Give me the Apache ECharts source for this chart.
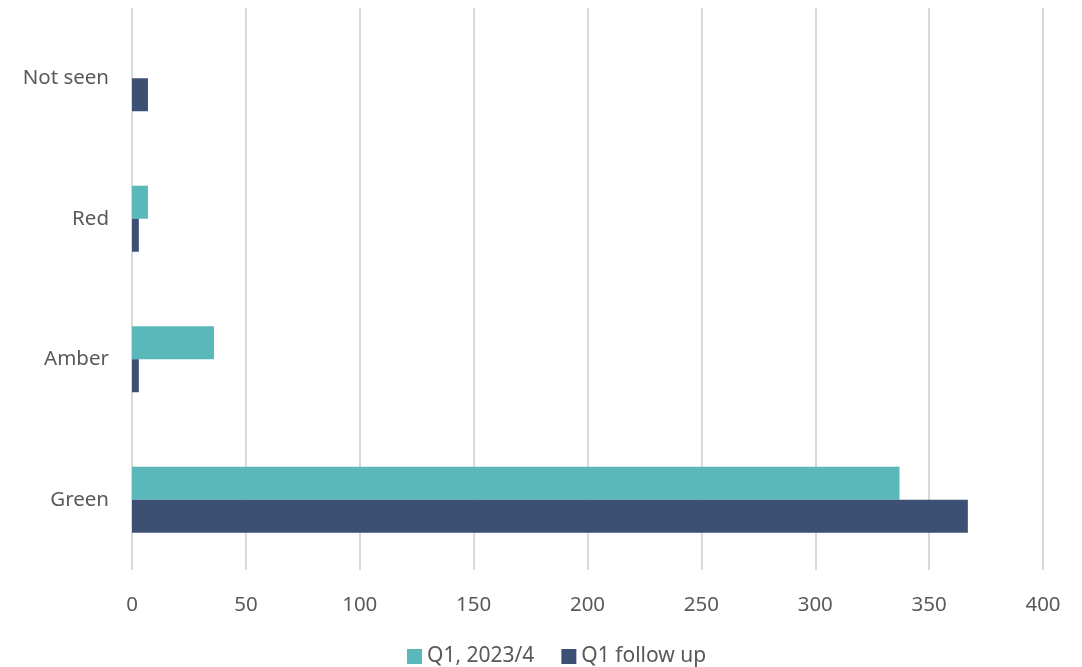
<!DOCTYPE html>
<html><head><meta charset="utf-8">
<script src="https://cdn.jsdelivr.net/npm/echarts@6/dist/echarts.min.js"></script>
<style>html,body{margin:0;padding:0;background:#fff}#c{width:1082px;height:667px}</style>
</head><body><div id="c"></div>
<script>
const categories = ['Green', 'Amber', 'Red', 'Not seen'];
const seriesNames = ['Q1, 2023/4', 'Q1 follow up'];
const q1Values = [337, 36, 7, 0];
const followUpValues = [367, 3, 3, 7];
const xTicks = [0, 400, 50];

const chart = echarts.init(document.getElementById('c'));
const font = 'Noto Sans';
chart.setOption({
  animation: false,
  textStyle: { fontFamily: font },
  legend: {
    data: seriesNames,
    top: 641,
    left: 402,
    itemWidth: 15, itemHeight: 15, itemGap: 27,
    icon: 'rect',
    textStyle: { fontSize: 21, color: '#595959', fontFamily: font }
  },
  grid: { left: 132, right: 39, top: 8, bottom: 97, containLabel: false },
  xAxis: {
    type: 'value', min: xTicks[0], max: xTicks[1], interval: xTicks[2],
    axisLine: { show: false }, axisTick: { show: false },
    splitLine: { lineStyle: { color: '#d9d9d9', width: 2 } },
    axisLabel: { fontSize: 20.5, color: '#595959', margin: 25, fontFamily: font }
  },
  yAxis: {
    type: 'category', data: categories,
    axisLine: { show: false }, axisTick: { show: false },
    axisLabel: { fontSize: 20.5, color: '#595959', margin: 23, fontFamily: font }
  },
  series: [
    { name: seriesNames[0], type: 'bar', data: q1Values, barWidth: 33, barGap: '0%',
      itemStyle: { color: '#5bb8ba' } },
    { name: seriesNames[1], type: 'bar', data: followUpValues, barWidth: 33, barGap: '0%',
      itemStyle: { color: '#3c5073' } }
  ]
});
</script></body></html>
